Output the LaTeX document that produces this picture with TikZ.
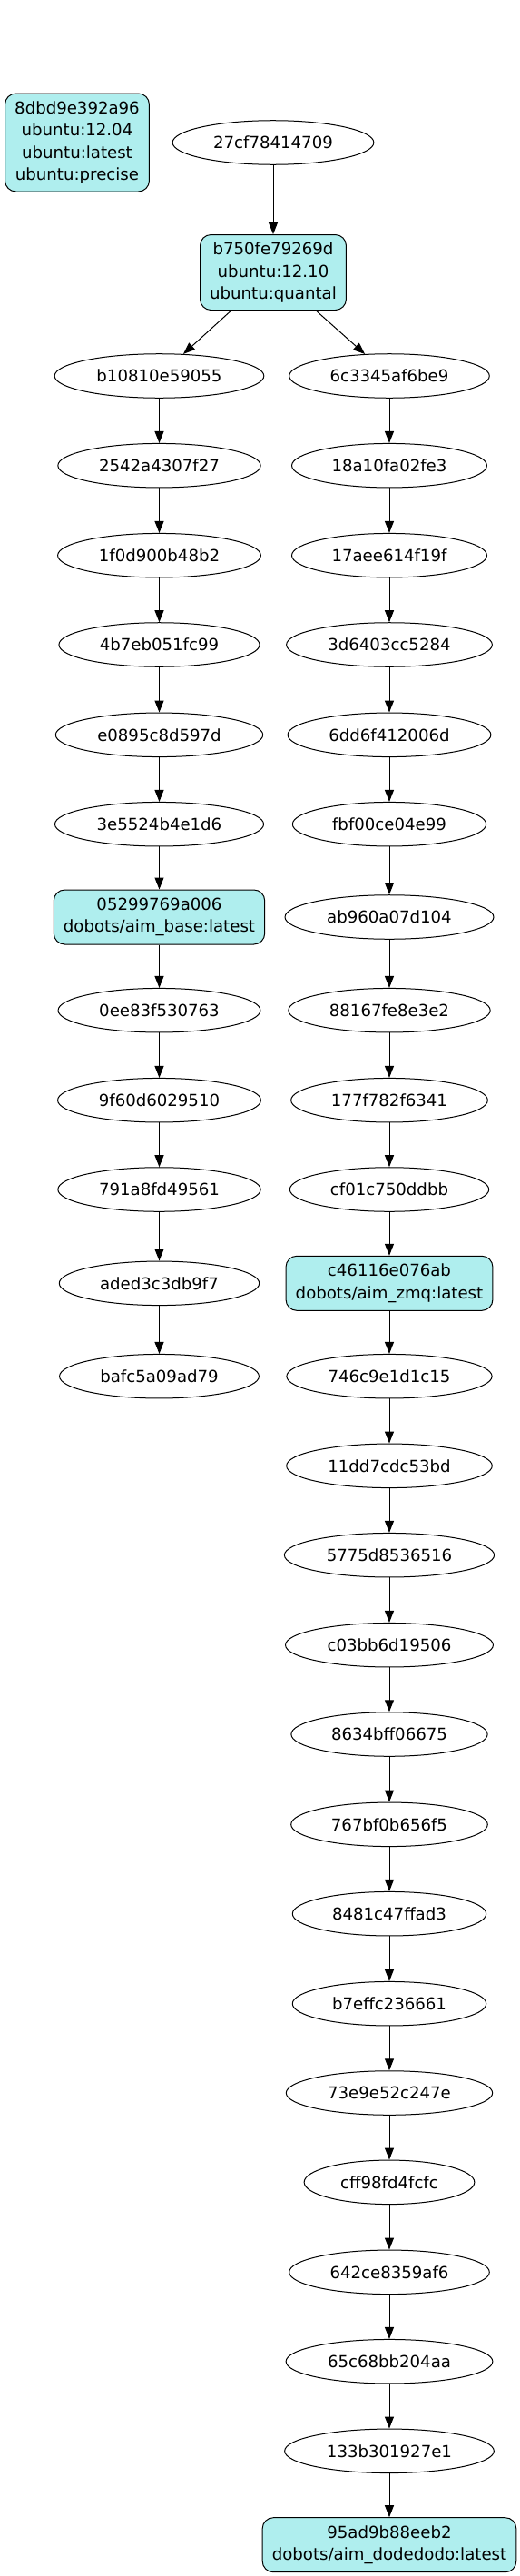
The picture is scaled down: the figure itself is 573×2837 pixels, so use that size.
\documentclass[tikz,border=0pt]{standalone}
\usepackage{fontspec}
\setmainfont{DejaVu Sans}
\usepackage{tikz}
\usetikzlibrary{shapes.geometric,arrows.meta}

\definecolor{tagcyan}{RGB}{175,238,238}

\tikzset{
  layer/.style={ellipse, draw, line width=0.75pt, minimum height=36.4pt, inner xsep=9.4pt, inner ysep=2pt},
  tagged/.style={draw, line width=0.75pt, rounded corners=9pt, fill=tagcyan, align=center, inner xsep=8pt, inner ysep=2pt},
  link/.style={line width=0.75pt, -{Triangle[length=9.75pt,width=7.5pt]}}
}

\begin{document}
\begin{tikzpicture}[x=0.75pt, y=-0.75pt, font=\fontsize{13.6}{18.2}\selectfont]
    \useasboundingbox (0,0) rectangle (573,2837);
    % top
    \node[tagged, minimum height=81pt] (h8dbd) at (85,157) {8dbd9e392a96\\ubuntu:12.04\\ubuntu:latest\\ubuntu:precise};
    \node[layer] (h27cf) at (301,157) {27cf78414709};
    \node[tagged, minimum height=62.25pt] (hb750) at (301,300) {b750fe79269d\\ubuntu:12.10\\ubuntu:quantal};
    % left branch
    \node[layer] (hb108) at (175.5,414) {b10810e59055};
    \node[layer] (h2542) at (175.5,512.7) {2542a4307f27};
    \node[layer] (h1f0d) at (175.5,611.7) {1f0d900b48b2};
    \node[layer] (h4b7e) at (175.5,710) {4b7eb051fc99};
    \node[layer] (he089) at (175.5,809.3) {e0895c8d597d};
    \node[layer] (h3e55) at (175.5,907.7) {3e5524b4e1d6};
    \node[tagged, minimum height=45pt] (h0529) at (175.5,1010) {05299769a006\\dobots/aim\_base:latest};
    \node[layer] (h0ee8) at (175.5,1112.7) {0ee83f530763};
    \node[layer] (h9f60) at (175.5,1211.7) {9f60d6029510};
    \node[layer] (h791a) at (175.5,1310) {791a8fd49561};
    \node[layer] (haded) at (175.5,1413.3) {aded3c3db9f7};
    \node[layer] (hbafc) at (175.5,1515.7) {bafc5a09ad79};
    % right branch
    \node[layer] (h6c33) at (429,414) {6c3345af6be9};
    \node[layer] (h18a1) at (429,512.7) {18a10fa02fe3};
    \node[layer] (h17ae) at (429,611.7) {17aee614f19f};
    \node[layer] (h3d64) at (429,710) {3d6403cc5284};
    \node[layer] (h6dd6) at (429,809.3) {6dd6f412006d};
    \node[layer] (hfbf0) at (429,907.7) {fbf00ce04e99};
    \node[layer] (hab96) at (429,1010) {ab960a07d104};
    \node[layer] (h8816) at (429,1112.7) {88167fe8e3e2};
    \node[layer] (h177f) at (429,1211.7) {177f782f6341};
    \node[layer] (hcf01) at (429,1310) {cf01c750ddbb};
    \node[tagged, minimum height=45pt] (hc461) at (429,1413.3) {c46116e076ab\\dobots/aim\_zmq:latest};
    \node[layer] (h746c) at (429,1515.7) {746c9e1d1c15};
    \node[layer] (h11dd) at (429,1614.3) {11dd7cdc53bd};
    \node[layer] (h5775) at (429,1712.7) {5775d8536516};
    \node[layer] (hc03b) at (429,1811.7) {c03bb6d19506};
    \node[layer] (h8634) at (429,1910) {8634bff06675};
    \node[layer] (h767b) at (429,2009.3) {767bf0b656f5};
    \node[layer] (h8481) at (429,2107.7) {8481c47ffad3};
    \node[layer] (hb7ef) at (429,2206.7) {b7effc236661};
    \node[layer] (h73e9) at (429,2305) {73e9e52c247e};
    \node[layer] (hcff9) at (429,2403.3) {cff98fd4fcfc};
    \node[layer] (h642c) at (429,2502.3) {642ce8359af6};
    \node[layer] (h65c6) at (429,2600.7) {65c68bb204aa};
    \node[layer] (h133b) at (429,2699.3) {133b301927e1};
    \node[tagged, minimum height=45pt] (h95ad) at (429,2802.7) {95ad9b88eeb2\\dobots/aim\_dodedodo:latest};
    % edges
    \draw[link] (h27cf) -- (hb750);
    \draw[link] (hb750) -- (hb108);
    \draw[link] (hb750) -- (h6c33);
    \draw[link] (hb108) -- (h2542);
    \draw[link] (h2542) -- (h1f0d);
    \draw[link] (h1f0d) -- (h4b7e);
    \draw[link] (h4b7e) -- (he089);
    \draw[link] (he089) -- (h3e55);
    \draw[link] (h3e55) -- (h0529);
    \draw[link] (h0529) -- (h0ee8);
    \draw[link] (h0ee8) -- (h9f60);
    \draw[link] (h9f60) -- (h791a);
    \draw[link] (h791a) -- (haded);
    \draw[link] (haded) -- (hbafc);
    \draw[link] (h6c33) -- (h18a1);
    \draw[link] (h18a1) -- (h17ae);
    \draw[link] (h17ae) -- (h3d64);
    \draw[link] (h3d64) -- (h6dd6);
    \draw[link] (h6dd6) -- (hfbf0);
    \draw[link] (hfbf0) -- (hab96);
    \draw[link] (hab96) -- (h8816);
    \draw[link] (h8816) -- (h177f);
    \draw[link] (h177f) -- (hcf01);
    \draw[link] (hcf01) -- (hc461);
    \draw[link] (hc461) -- (h746c);
    \draw[link] (h746c) -- (h11dd);
    \draw[link] (h11dd) -- (h5775);
    \draw[link] (h5775) -- (hc03b);
    \draw[link] (hc03b) -- (h8634);
    \draw[link] (h8634) -- (h767b);
    \draw[link] (h767b) -- (h8481);
    \draw[link] (h8481) -- (hb7ef);
    \draw[link] (hb7ef) -- (h73e9);
    \draw[link] (h73e9) -- (hcff9);
    \draw[link] (hcff9) -- (h642c);
    \draw[link] (h642c) -- (h65c6);
    \draw[link] (h65c6) -- (h133b);
    \draw[link] (h133b) -- (h95ad);
  \end{tikzpicture}
\end{document}
